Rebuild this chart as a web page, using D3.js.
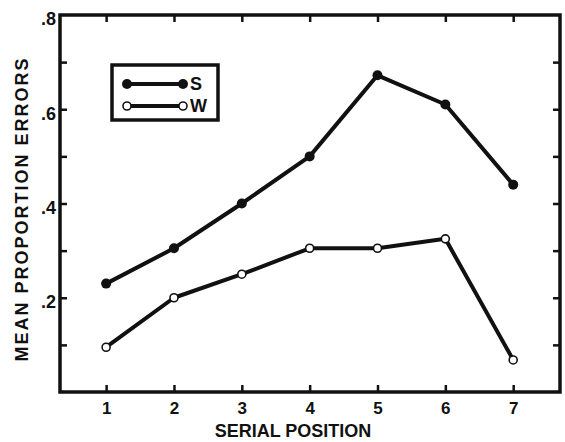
<!DOCTYPE html>
<html><head><meta charset="utf-8">
<script src="https://cdn.jsdelivr.net/npm/d3@7"></script>
<style>body{margin:0;background:#fff}svg{display:block}text{font-family:"Liberation Sans",Arial,sans-serif;fill:#111;font-weight:bold}</style>
</head><body><svg id="c" width="565" height="442"></svg>
<script>
const positions = [1,2,3,4,5,6,7];
const sValues = [0.23,0.305,0.40,0.50,0.672,0.61,0.44];
const wValues = [0.095,0.20,0.25,0.305,0.305,0.325,0.068];
const yTickLabels = [".2",".4",".6",".8"];
const yTickValues = [0.2,0.4,0.6,0.8];
const yMinorTicks = [0.1,0.2,0.3,0.4,0.5,0.6,0.7];

const svg = d3.select("#c");
const L=60,R=560,T=15,B=392;
const x = d3.scaleLinear().domain([0.32,7.69]).range([L,R]);
const y = d3.scaleLinear().domain([0,0.8]).range([B,T]);

svg.append("rect").attr("x",L).attr("y",T).attr("width",R-L).attr("height",B-T)
  .attr("fill","none").attr("stroke","#111").attr("stroke-width",3.5);

const xb = d3.axisBottom(x).tickValues(positions).tickSize(-7).tickPadding(10).tickFormat(d3.format("d"));
const gx = svg.append("g").attr("transform",`translate(0,${B})`).call(xb);
gx.select(".domain").remove();
gx.selectAll(".tick line").attr("stroke","#111").attr("stroke-width",2.5);
gx.selectAll("text").attr("font-size",17).attr("fill","#111");
const xt = d3.axisTop(x).tickValues(positions).tickSize(-7).tickFormat("");
const gxt = svg.append("g").attr("transform",`translate(0,${T})`).call(xt);
gxt.select(".domain").remove();
gxt.selectAll(".tick line").attr("stroke","#111").attr("stroke-width",2.5);
const yl = d3.axisLeft(y).tickValues(yMinorTicks).tickSize(-7).tickFormat("");
const gyl = svg.append("g").attr("transform",`translate(${L},0)`).call(yl);
gyl.select(".domain").remove();
gyl.selectAll(".tick line").attr("stroke","#111").attr("stroke-width",2.5);
const yLab = d3.axisLeft(y).tickValues(yTickValues).tickSize(0).tickPadding(4).tickFormat((d,i)=>yTickLabels[i]);
const gyLab = svg.append("g").attr("transform",`translate(${L},0)`).call(yLab);
gyLab.select(".domain").remove();
gyLab.selectAll("text").attr("font-size",18).attr("fill","#111").attr("dy","0.55em");
const yr = d3.axisRight(y).tickValues(yMinorTicks).tickSize(-7).tickFormat("");
const gyr = svg.append("g").attr("transform",`translate(${R},0)`).call(yr);
gyr.select(".domain").remove();
gyr.selectAll(".tick line").attr("stroke","#111").attr("stroke-width",2.5);

const line = d3.line().x((d,i)=>x(positions[i])).y(d=>y(d));
[sValues,wValues].forEach(v=>{
  svg.append("path").attr("d",line(v)).attr("fill","none").attr("stroke","#111").attr("stroke-width",4).attr("stroke-linejoin","round");
});
svg.selectAll(".s").data(sValues).join("circle").attr("cx",(d,i)=>x(positions[i])).attr("cy",d=>y(d)).attr("r",5).attr("fill","#111");
svg.selectAll(".w").data(wValues).join("circle").attr("cx",(d,i)=>x(positions[i])).attr("cy",d=>y(d)).attr("r",4).attr("fill","#fff").attr("stroke","#111").attr("stroke-width",1.6);

svg.append("rect").attr("x",112).attr("y",65).attr("width",106).attr("height",55).attr("fill","#fff").attr("stroke","#111").attr("stroke-width",3.5);
const leg = [{k:"S",y:84,fill:"#111",r:5},{k:"W",y:106,fill:"#fff",r:4}];
leg.forEach(l=>{
  svg.append("line").attr("x1",127).attr("x2",183).attr("y1",l.y).attr("y2",l.y).attr("stroke","#111").attr("stroke-width",4);
  [127,183].forEach(cx=>svg.append("circle").attr("cx",cx).attr("cy",l.y).attr("r",l.r).attr("fill",l.fill).attr("stroke","#111").attr("stroke-width",l.fill=="#fff"?1.6:0));
  svg.append("text").attr("x",190).attr("y",l.y+6).attr("font-size",18).text(l.k);
});

svg.append("text").attr("x",293).attr("y",437).attr("text-anchor","middle").attr("font-size",18).text("SERIAL POSITION");
svg.append("text").attr("transform","translate(28,209) rotate(-90)").attr("text-anchor","middle").attr("font-size",18).attr("letter-spacing",2).text("MEAN PROPORTION ERRORS");
</script></body></html>
